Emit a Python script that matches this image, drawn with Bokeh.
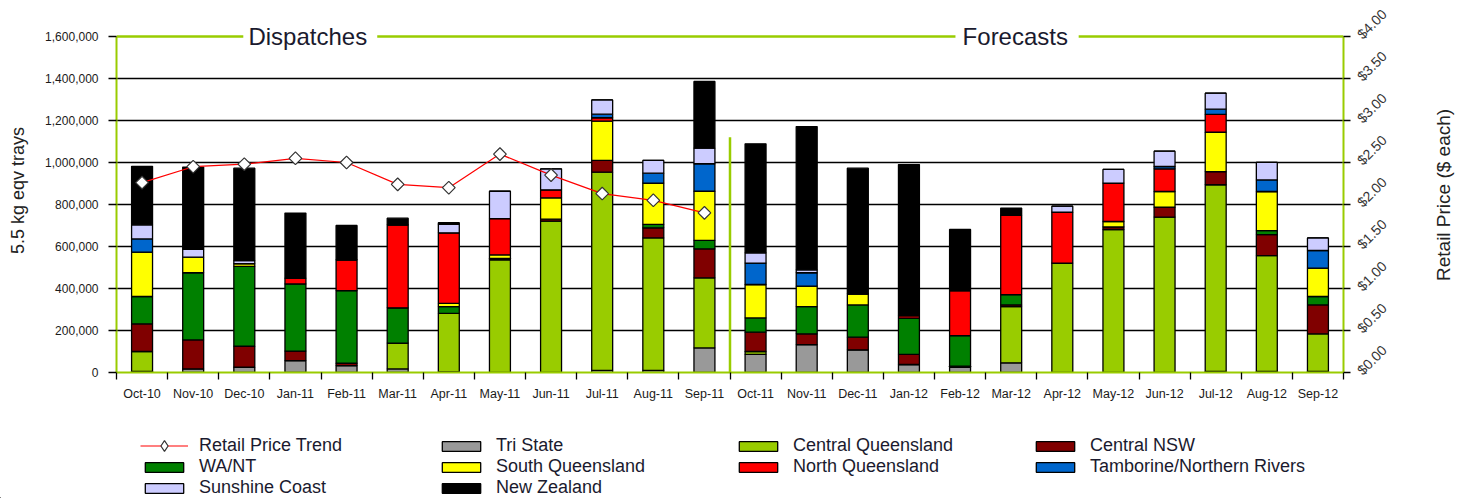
import math
import numpy as np
from bokeh.plotting import figure
from bokeh.layouts import column, row
from bokeh.models import (Range1d, LinearAxis, FixedTicker, NumeralTickFormatter,
                          Legend, LegendItem, Label, ColumnDataSource)
from bokeh.core.properties import value
from bokeh.embed import file_html
from bokeh.resources import INLINE

# ---------------- data ----------------
months = ["Oct-10", "Nov-10", "Dec-10", "Jan-11", "Feb-11", "Mar-11", "Apr-11", "May-11",
          "Jun-11", "Jul-11", "Aug-11", "Sep-11", "Oct-11", "Nov-11", "Dec-11", "Jan-12",
          "Feb-12", "Mar-12", "Apr-12", "May-12", "Jun-12", "Jul-12", "Aug-12", "Sep-12"]

tri_state = [5000, 17000, 25000, 57000, 33000, 17000, 3000, 0, 0, 10000, 10000, 117000,
             86000, 133000, 108000, 38000, 25000, 46000, 0, 0, 0, 5000, 5000, 5000]
central_qld = [95000, 0, 0, 0, 0, 123000, 279000, 537000, 721000, 944000, 631000, 334000,
               14000, 0, 0, 0, 5000, 268000, 521000, 681000, 740000, 889000, 552000, 179000]
central_nsw = [132000, 138000, 100000, 45000, 11000, 0, 0, 6000, 9000, 56000, 48000, 138000,
               92000, 51000, 60000, 48000, 0, 8000, 0, 12000, 47000, 63000, 100000, 138000]
wa_nt = [130000, 320000, 380000, 320000, 346000, 168000, 32000, 0, 0, 0, 16000, 40000,
         68000, 130000, 154000, 173000, 146000, 49000, 0, 0, 0, 0, 19000, 40000]
south_qld = [211000, 74000, 13000, 0, 0, 0, 15000, 17000, 102000, 187000, 197000, 234000,
             159000, 97000, 53000, 0, 0, 0, 0, 26000, 75000, 187000, 186000, 135000]
north_qld = [0, 0, 0, 27000, 147000, 395000, 336000, 173000, 38000, 16000, 0, 0,
             0, 0, 0, 12000, 214000, 377000, 242000, 183000, 108000, 85000, 0, 0]
tamborine = [63000, 0, 0, 0, 0, 0, 0, 0, 0, 17000, 47000, 131000,
             102000, 64000, 0, 0, 0, 0, 0, 0, 11000, 25000, 55000, 84000]
sunshine_coast = [67000, 37000, 15000, 0, 0, 0, 40000, 130000, 100000, 68000, 61000, 74000,
                  49000, 14000, 0, 0, 0, 0, 29000, 65000, 73000, 76000, 84000, 60000]
new_zealand = [279000, 392000, 440000, 310000, 163000, 32000, 8000, 0, 0, 0, 0, 318000,
               519000, 682000, 598000, 719000, 291000, 35000, 0, 0, 0, 0, 0, 0]

# retail price trend (dispatch months only)
retail_price = [2.26, 2.45, 2.48, 2.55, 2.50, 2.24, 2.20, 2.60, 2.35, 2.13, 2.05, 1.90]

series_keys = ["tri", "cq", "cnsw", "wa", "sq", "nq", "tam", "sc", "nz"]
series_names = ["Tri State", "Central Queensland", "Central NSW", "WA/NT", "South Queensland",
                "North Queensland", "Tamborine/Northern Rivers", "Sunshine Coast", "New Zealand"]
series_values = [tri_state, central_qld, central_nsw, wa_nt, south_qld, north_qld,
                 tamborine, sunshine_coast, new_zealand]
series_colors = ["#999999", "#99cc00", "#800000", "#008000", "#ffff00", "#ff0000",
                 "#0066cc", "#ccccff", "#000000"]

left_ticks = [0, 200000, 400000, 600000, 800000, 1000000, 1200000, 1400000, 1600000]
right_ticks = [0, 0.5, 1.0, 1.5, 2.0, 2.5, 3.0, 3.5, 4.0]

# ---------------- style ----------------
FONT = "Liberation Sans"
GREEN = "#99cc00"
TXT = "#1a1a1a"

n = len(months)
xpos = np.arange(n) + 0.5
n_dispatch = len(retail_price)

data = {"x": xpos}
for k, v in zip(series_keys, series_values):
    data[k] = v
src = ColumnDataSource(data)

# frame: x 116..1343, y 8..372 ; axis scale tops at y=36
MAIN_W, MAIN_H = 1432, 410
FRAME_TOP, FRAME_BOTTOM, SCALE_TOP = 8, 372, 36
headroom = (FRAME_BOTTOM - FRAME_TOP) / (FRAME_BOTTOM - SCALE_TOP)
y_end = left_ticks[-1] * headroom
p_end = right_ticks[-1] * headroom

p = figure(width=MAIN_W, height=MAIN_H, output_backend="svg", toolbar_location=None,
           x_range=Range1d(0, n), y_range=Range1d(0, y_end),
           min_border_left=116, min_border_right=MAIN_W - 1343,
           min_border_top=FRAME_TOP, min_border_bottom=MAIN_H - FRAME_BOTTOM)
p.extra_y_ranges = {"price": Range1d(0, p_end)}
p.outline_line_color = None
p.background_fill_color = "white"
p.border_fill_color = "white"

# grid
p.xgrid.visible = False
p.ygrid.ticker = FixedTicker(ticks=left_ticks[1:-1])
p.ygrid.grid_line_color = "black"
p.ygrid.grid_line_width = 1.3

# bottom axis
xa = p.xaxis[0]
xa.ticker = FixedTicker(ticks=list(xpos), minor_ticks=list(range(n + 1)))
xa.major_label_overrides = {float(xv): m for xv, m in zip(xpos, months)}
xa.major_tick_in = 0
xa.major_tick_out = 0
xa.minor_tick_in = 0
xa.minor_tick_out = 7
xa.minor_tick_line_color = "black"
xa.minor_tick_line_width = 1.3
xa.axis_line_color = GREEN
xa.axis_line_width = 2
xa.major_label_text_font = FONT
xa.major_label_text_font_size = "12.5px"
xa.major_label_text_color = TXT
xa.major_label_standoff = 7

# left axis
ya = p.yaxis[0]
ya.ticker = FixedTicker(ticks=left_ticks)
ya.bounds = (left_ticks[0], left_ticks[-1])
ya.formatter = NumeralTickFormatter(format="0,0")
ya.major_tick_in = 0
ya.major_tick_out = 8
ya.major_tick_line_color = "black"
ya.major_tick_line_width = 1.3
ya.minor_tick_line_color = None
ya.axis_line_color = GREEN
ya.axis_line_width = 2
ya.major_label_text_font = FONT
ya.major_label_text_font_size = "12px"
ya.major_label_text_color = TXT
ya.major_label_standoff = 10
ya.axis_label = "5.5 kg eqv trays"
ya.axis_label_text_font = FONT
ya.axis_label_text_font_size = "18px"
ya.axis_label_text_font_style = "normal"
ya.axis_label_text_color = "#222222"
ya.axis_label_standoff = 14

# right axis
ra = LinearAxis(y_range_name="price", ticker=FixedTicker(ticks=right_ticks),
                formatter=NumeralTickFormatter(format="$0.00"),
                bounds=(right_ticks[0], right_ticks[-1]))
ra.major_tick_in = 0
ra.major_tick_out = 7
ra.major_tick_line_color = "black"
ra.major_tick_line_width = 1.3
ra.minor_tick_line_color = None
ra.axis_line_color = GREEN
ra.axis_line_width = 2
ra.major_label_text_font = FONT
ra.major_label_text_font_size = "14px"
ra.major_label_text_color = "#333333"
ra.major_label_orientation = math.pi / 4
ra.major_label_standoff = 9
p.add_layout(ra, "right")

# stacked bars
bar_renderers = p.vbar_stack(series_keys, x="x", width=0.41, source=src,
                             fill_color=series_colors, line_color="black", line_width=1.3)

# price trend
price_x = xpos[:n_dispatch]
p.line(price_x, retail_price, y_range_name="price", line_color="#ff0000", line_width=1.2)
p.scatter(price_x, retail_price, y_range_name="price", marker="square", angle=math.pi / 4,
          size=9, fill_color="white", line_color="#333333", line_width=1.2)

# frame decorations: top green line with section titles, divider
top_y = left_ticks[-1]
seg_x0 = [0, 5.1, 18.82]
seg_x1 = [2.48, 16.41, n]
p.segment(x0=seg_x0, y0=[top_y] * 3, x1=seg_x1, y1=[top_y] * 3, line_color=GREEN, line_width=2.5)
p.segment(x0=[n_dispatch], y0=[0], x1=[n_dispatch], y1=[1120000], line_color=GREEN, line_width=2.5)

for txt, xx in [("Dispatches", 2.58), ("Forecasts", 16.55)]:
    p.add_layout(Label(x=xx, y=top_y, text=txt, text_font=FONT, text_font_size="24px",
                       text_color="#1a1a2e", text_baseline="middle", text_align="left",
                       y_offset=0))

# right-side axis title (separate narrow panel)
SIDE_W = 1460 - MAIN_W
side = figure(width=SIDE_W, height=MAIN_H, output_backend="svg", toolbar_location=None,
              x_range=Range1d(0, 1), y_range=Range1d(0, MAIN_H),
              x_axis_location=None, y_axis_location=None, min_border=0)
side.outline_line_color = None
side.grid.visible = False
side.text(x=[0.4], y=[MAIN_H - 210], text=["Retail Price ($ each)"], angle=math.pi / 2,
          text_font=value(FONT), text_font_size="19px", text_color="#222222",
          text_align="center", text_baseline="middle")

# legend panel (proxy glyphs sit outside the visible range)
LEG_H = 88
leg = figure(width=1460, height=LEG_H, output_backend="svg", toolbar_location=None,
             x_range=Range1d(0, 1), y_range=Range1d(0, 1),
             x_axis_location=None, y_axis_location=None, min_border=0)
leg.outline_line_color = None
leg.grid.visible = False
proxy = ColumnDataSource(dict(x=[-5.0], y=[-5.0]))
lr = leg.line(x="x", y="y", source=proxy, line_color="#ff0000", line_width=1.2)
sr = leg.scatter(x="x", y="y", source=proxy, marker="diamond", size=9,
                 fill_color="white", line_color="#333333", line_width=1.2)
bar_items = []
for name, c in zip(series_names, series_colors):
    r = leg.vbar(x="x", top="y", width=0.1, source=proxy, fill_color=c,
                 line_color="black", line_width=1.3)
    bar_items.append(LegendItem(label=name, renderers=[r]))

COL_W = 297
common = dict(orientation="horizontal", padding=0, margin=0, spacing=0,
              border_line_color=None, background_fill_alpha=0,
              label_text_font=FONT, label_text_font_size="18px",
              label_text_color="#1a1a2e", label_width=COL_W - 48 - 11,
              glyph_width=48, label_standoff=11)
# row 1, column 1: price trend (taller glyph box gives a larger diamond)
leg.add_layout(Legend(items=[LegendItem(label="Retail Price Trend", renderers=[lr, sr])],
                      location=(140, 39), ncols=1, label_height=27, glyph_height=27,
                      **common), "center")
# row 1, columns 2-4
leg.add_layout(Legend(items=bar_items[:3], location=(140 + COL_W, 42), ncols=3,
                      label_height=21, glyph_height=12, **common), "center")
# rows 2-3
leg.add_layout(Legend(items=bar_items[3:], location=(140, 0), ncols=4,
                      label_height=21, glyph_height=12, **common), "center")

layout = column(row(p, side, spacing=0), leg, spacing=0)
open("out.html", "w").write(file_html(layout, INLINE))
